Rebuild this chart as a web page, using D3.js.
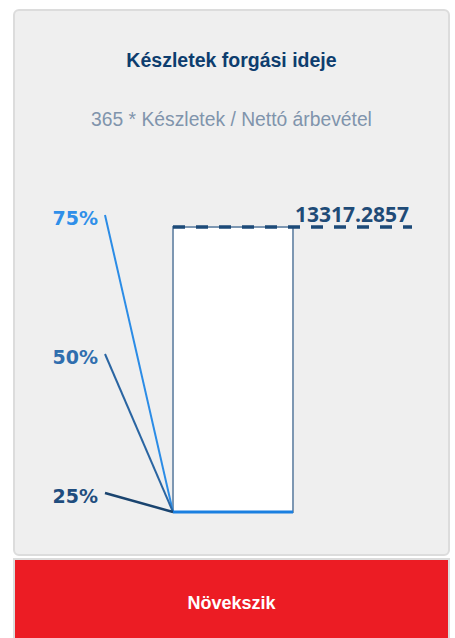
<!DOCTYPE html>
<html>
<head>
<meta charset="utf-8">
<script src="https://cdn.jsdelivr.net/npm/d3@7"></script>
<style>
    body { margin: 0; background: #ffffff; }
    svg { display: block; }
</style>
</head>
<body>
<div id="chart"></div>
<script>
// Data
const title = "Készletek forgási ideje";
const subtitle = "365 * Készletek / Nettó árbevétel";
const statusText = "Növekszik";
const barValue = 13317.2857;
const percentileLabels = ["75%", "50%", "25%"];
const percentileValues = [0, 0, 0];
const percentileColors = ["#2b8ce6", "#2a65a2", "#1a446f"];
const labelColors = ["#2f8fe9", "#2f6eae", "#1f4d7e"];

const width = 455;
const height = 638;

const svg = d3
    .select("#chart")
    .append("svg")
    .attr("width", width)
    .attr("height", height);

// card
svg.append("rect")
    .attr("x", 14)
    .attr("y", 10)
    .attr("width", 435)
    .attr("height", 545)
    .attr("rx", 5)
    .attr("fill", "#efefef")
    .attr("stroke", "#dcdcdc")
    .attr("stroke-width", 2);

// status box
svg.append("rect")
    .attr("x", 14)
    .attr("y", 559)
    .attr("width", 435)
    .attr("height", 100)
    .attr("fill", "#ec1c24")
    .attr("stroke", "#dcdcdc")
    .attr("stroke-width", 2);

svg.append("text")
    .attr("x", 231.5)
    .attr("y", 67)
    .attr("text-anchor", "middle")
    .attr("font-family", "Liberation Sans, Arial, sans-serif")
    .attr("font-weight", "bold")
    .attr("font-size", 19.5)
    .attr("fill", "#0d3d6e")
    .text(title);

svg.append("text")
    .attr("x", 231.5)
    .attr("y", 126)
    .attr("text-anchor", "middle")
    .attr("font-family", "Liberation Sans, Arial, sans-serif")
    .attr("font-size", 19.3)
    .attr("fill", "#8094ac")
    .text(subtitle);

svg.append("text")
    .attr("x", 231.5)
    .attr("y", 609)
    .attr("text-anchor", "middle")
    .attr("font-family", "Liberation Sans, Arial, sans-serif")
    .attr("font-weight", "bold")
    .attr("font-size", 18)
    .attr("fill", "#ffffff")
    .text(statusText);

// Define the scales
const y = d3.scaleLinear().domain([0, barValue]).range([512, 227]);
const x = d3.scaleBand().domain(["value"]).range([173, 293]).padding(0);
const labelY = d3.scalePoint().domain(percentileLabels).range([215, 493]);

const g = svg.append("g");

// bar body
g.append("rect")
    .attr("x", x("value"))
    .attr("y", y(barValue))
    .attr("width", x.bandwidth())
    .attr("height", y(0) - y(barValue))
    .attr("fill", "#ffffff")
    .attr("stroke", "#7d97b2")
    .attr("stroke-width", 2);

// percentile connectors
percentileLabels.forEach((p, i) => {
    g.append("line")
        .attr("x1", 105)
        .attr("y1", labelY(p))
        .attr("x2", x("value"))
        .attr("y2", y(percentileValues[i]))
        .attr("stroke", percentileColors[i])
        .attr("stroke-width", i === 2 ? 2.5 : 2);

    g.append("text")
        .attr("x", 98)
        .attr("y", labelY(p) + 10)
        .attr("text-anchor", "end")
        .attr("font-family", "DejaVu Sans, sans-serif")
        .attr("font-weight", "bold")
        .attr("font-size", 19)
        .attr("fill", labelColors[i])
        .text(p);
});

// bar baseline
g.append("line")
    .attr("x1", x("value"))
    .attr("x2", x("value") + x.bandwidth())
    .attr("y1", y(0))
    .attr("y2", y(0))
    .attr("stroke", "#1a7fe0")
    .attr("stroke-width", 3);

// value line
g.append("line")
    .attr("x1", x("value"))
    .attr("x2", 412)
    .attr("y1", y(barValue))
    .attr("y2", y(barValue))
    .attr("stroke", "#1c4a78")
    .attr("stroke-width", 3.5)
    .attr("stroke-dasharray", "12,11");

g.append("text")
    .attr("x", 295)
    .attr("y", y(barValue) - 5)
    .attr("font-family", "Open Sans, sans-serif")
    .attr("font-weight", "bold")
    .attr("font-size", 21)
    .attr("fill", "#1f4b77")
    .text(d3.format(".4f")(barValue));
</script>
</body>
</html>
